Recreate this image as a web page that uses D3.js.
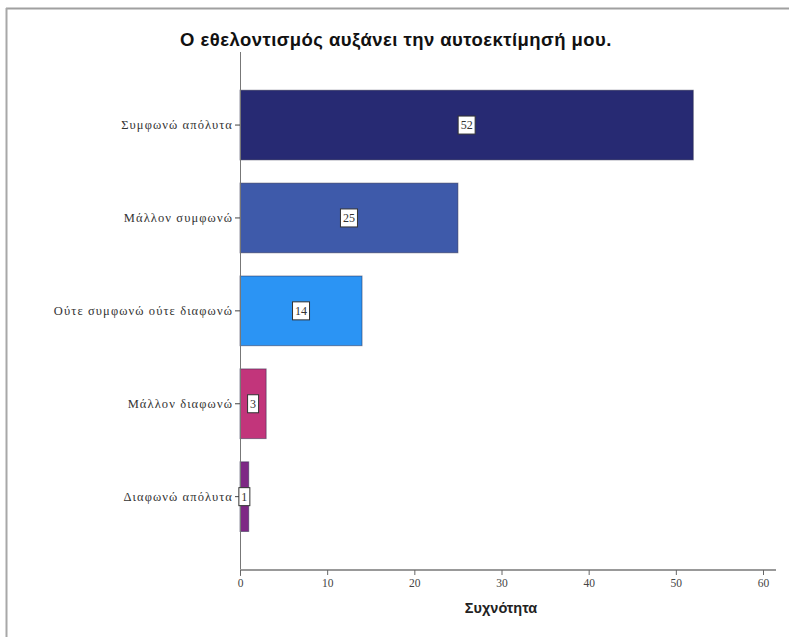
<!DOCTYPE html>
<html>
<head>
<meta charset="utf-8">
<script src="https://cdn.jsdelivr.net/npm/d3@7"></script>
<style>
  body { margin: 0; background: #fff; }
  svg { display: block; }
</style>
</head>
<body>
<svg id="chart" width="789" height="637"></svg>
<script>
const title = "Ο εθελοντισμός αυξάνει την αυτοεκτίμησή μου.";
const xTitle = "Συχνότητα";
const categories = ["Συμφωνώ απόλυτα", "Μάλλον συμφωνώ", "Ούτε συμφωνώ ούτε διαφωνώ", "Μάλλον διαφωνώ", "Διαφωνώ απόλυτα"];
const values = [52, 25, 14, 3, 1];
const colors = ["#272a73", "#3e5aaa", "#2b94f4", "#c2357b", "#7e2885"];
const xTicks = [0, 10, 20, 30, 40, 50, 60];

const svg = d3.select("#chart");

// frame
svg.append("line").attr("x1", 6).attr("x2", 789).attr("y1", 8.5).attr("y2", 8.5)
  .attr("stroke", "#a0a0a0").attr("stroke-width", 2);
svg.append("line").attr("x1", 6.5).attr("x2", 6.5).attr("y1", 8).attr("y2", 637)
  .attr("stroke", "#a8a8a8").attr("stroke-width", 2);

const x = d3.scaleLinear().domain([0, 60]).range([240, 763]);
const y = d3.scaleBand().domain(categories).range([78.6, 543.1])
  .paddingInner(0.25).paddingOuter(0.125);

// title
svg.append("text").attr("x", 396).attr("y", 46).attr("text-anchor", "middle")
  .attr("font-family", "Liberation Sans, Arial, sans-serif").attr("font-weight", "bold")
  .attr("font-size", 18.5).attr("letter-spacing", 0.45).attr("fill", "#111").text(title);

// bars
svg.selectAll("rect.bar").data(values).enter().append("rect").attr("class", "bar")
  .attr("x", x(0)).attr("y", (d, i) => y(categories[i]))
  .attr("width", d => x(d) - x(0)).attr("height", y.bandwidth())
  .attr("fill", (d, i) => colors[i])
  .attr("stroke", "#2a2a4a").attr("stroke-opacity", 0.5).attr("stroke-width", 1);

// y axis
const yAxis = d3.axisLeft(y).tickSize(5).tickPadding(2);
const gy = svg.append("g").attr("transform", `translate(${x(0)},0)`).call(yAxis);
gy.select(".domain").remove();
gy.selectAll(".tick line").attr("stroke", "#444");
gy.selectAll(".tick text").attr("font-family", "Liberation Serif, Times New Roman, serif")
  .attr("font-size", 12.5).attr("letter-spacing", 1.1).attr("fill", "#333");
svg.append("line").attr("x1", x(0) + 0.5).attr("x2", x(0) + 0.5).attr("y1", 52).attr("y2", 576)
  .attr("stroke", "#777").attr("stroke-width", 1);

// x axis
const xAxis = d3.axisBottom(x).tickValues(xTicks).tickSize(5).tickPadding(4);
const gx = svg.append("g").attr("transform", "translate(0,570)").call(xAxis);
gx.select(".domain").attr("stroke", "#999").attr("stroke-width", 2).attr("d", `M${x(0)},0H${x(60) + 13}`);
gx.selectAll(".tick line").attr("stroke", "#666");
gx.selectAll(".tick text").attr("font-family", "Liberation Serif, Times New Roman, serif")
  .attr("font-size", 11.5).attr("fill", "#444");

svg.append("text").attr("x", 501).attr("y", 613).attr("text-anchor", "middle")
  .attr("font-family", "Liberation Sans, Arial, sans-serif").attr("font-weight", "bold")
  .attr("font-size", 14.5).attr("fill", "#222").text(xTitle);

// value labels
const lab = svg.selectAll("g.lab").data(values).enter().append("g").attr("class", "lab")
  .attr("transform", (d, i) => `translate(${(x(0) + x(d)) / 2},${y(categories[i]) + y.bandwidth() / 2})`);
lab.append("rect")
  .attr("x", d => -(String(d).length * 6 + 5) / 2).attr("y", -9)
  .attr("width", d => String(d).length * 6 + 5).attr("height", 18)
  .attr("fill", "#fff").attr("stroke", "#333").attr("stroke-width", 1);
lab.append("text").attr("text-anchor", "middle").attr("dy", "0.35em")
  .attr("font-family", "Liberation Serif, Times New Roman, serif").attr("font-size", 12)
  .attr("fill", "#333").text(d => d);
</script>
</body>
</html>
